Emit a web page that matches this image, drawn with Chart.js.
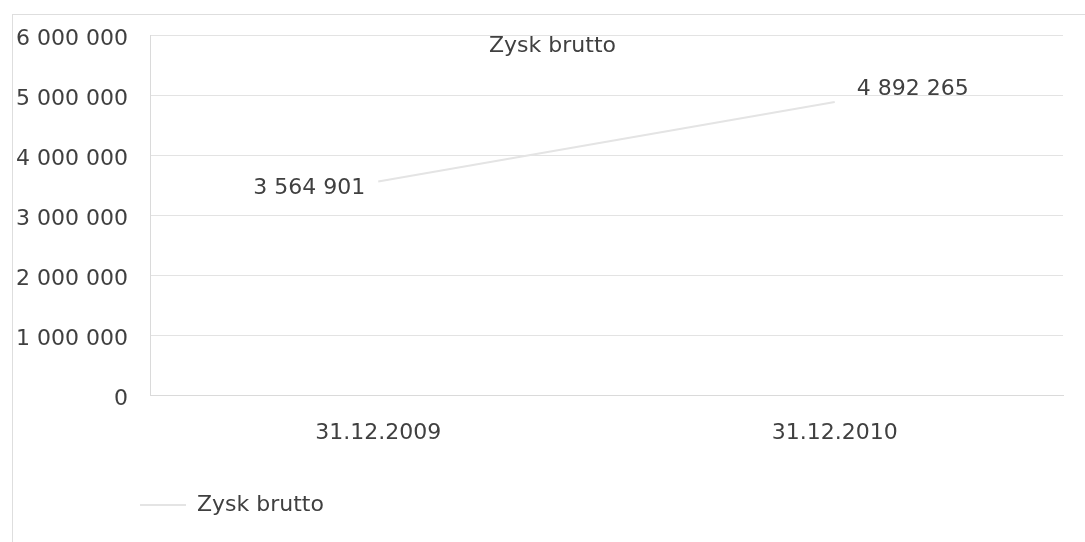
<!DOCTYPE html>
<html>
<head>
<meta charset="utf-8">
<title>Zysk brutto</title>
<script src="https://cdn.jsdelivr.net/npm/chart.js@4.4.1/dist/chart.umd.min.js"></script>
<style>
  html, body { margin: 0; padding: 0; background: #fff; }
  .wrap { position: relative; width: 1085px; height: 542px; overflow: hidden; }
  .frame { position: absolute; left: 12px; top: 14px; width: 1085px; height: 560px; border: 1px solid #dedede; }
  canvas { position: absolute; left: 0; top: 0; }
</style>
</head>
<body>
<div class="wrap">
  <div class="frame"></div>
  <canvas id="chart" width="1085" height="542"></canvas>
</div>
<script>
const categories = ["31.12.2009", "31.12.2010"]
const zyskBrutto = [3564901, 4892265]
const yTickLabels = ["0", "1 000 000", "2 000 000", "3 000 000", "4 000 000", "5 000 000", "6 000 000"]

const FONT = "DejaVu Sans"
const TEXT = "#404040"

const fmt = (v) => String(v).replace(/\B(?=(\d{3})+(?!\d))/g, " ")

// value labels next to the two points (left of the first, right of the second)
const valueLabels = {
  id: "valueLabels",
  afterLayout(chart) {
    // title sits a bit right of the canvas centre, legend a bit left of the plot
    chart.titleBlock.left += 30
    chart.legend.left -= 10
  },
  afterDatasetsDraw(chart) {
    const ctx = chart.ctx
    const meta = chart.getDatasetMeta(0)
    const values = chart.data.datasets[0].data
    ctx.save()
    ctx.font = "22px '" + FONT + "'"
    ctx.fillStyle = TEXT
    ctx.textBaseline = "middle"
    meta.data.forEach((pt, i) => {
      if (i === 0) {
        ctx.textAlign = "right"
        ctx.fillText(fmt(values[i]), pt.x - 13, pt.y + 7)
      } else {
        ctx.textAlign = "left"
        ctx.fillText(fmt(values[i]), pt.x + 22, pt.y - 13)
      }
    })
    ctx.restore()
  },
}

const ctx = document.getElementById("chart").getContext("2d")

new Chart(ctx, {
  type: "line",
  data: {
    labels: categories,
    datasets: [
      {
        label: "Zysk brutto",
        data: zyskBrutto,
        borderColor: "#e4e4e4",
        backgroundColor: "#e4e4e4",
        borderWidth: 2,
        pointRadius: 0,
        tension: 0,
        fill: false,
      },
    ],
  },
  options: {
    responsive: false,
    animation: false,
    devicePixelRatio: 1,
    layout: {
      padding: { left: 12, right: 22, top: 0, bottom: 16 },
    },
    scales: {
      x: {
        offset: true,
        grid: { display: false },
        border: { display: true, color: "#dadada", width: 1 },
        ticks: {
          color: TEXT,
          font: { family: FONT, size: 22 },
          padding: 16,
          maxRotation: 0,
        },
        afterFit: (scale) => {
          scale.height += 32
        },
      },
      y: {
        min: 0,
        max: 6000000,
        grid: { color: "#e3e3e3", lineWidth: 1, drawTicks: false },
        border: { display: true, color: "#dadada", width: 1 },
        ticks: {
          stepSize: 1000000,
          color: TEXT,
          font: { family: FONT, size: 22 },
          padding: 22,
          labelOffset: 4,
          callback: (value, index) => yTickLabels[index],
        },
        afterFit: (scale) => {
          scale.width = 138
        },
      },
    },
    plugins: {
      title: {
        display: true,
        text: "Zysk brutto",
        color: TEXT,
        font: { family: FONT, size: 22, weight: "normal" },
        padding: { top: 33, bottom: -24 },
      },
      legend: {
        display: true,
        position: "bottom",
        align: "start",
        fullSize: false,
        labels: {
          color: TEXT,
          font: { family: FONT, size: 22 },
          boxWidth: 46,
          boxHeight: 0,
          padding: 0,
        },
      },
      tooltip: { enabled: false },
    },
  },
  plugins: [valueLabels],
})
</script>
</body>
</html>
